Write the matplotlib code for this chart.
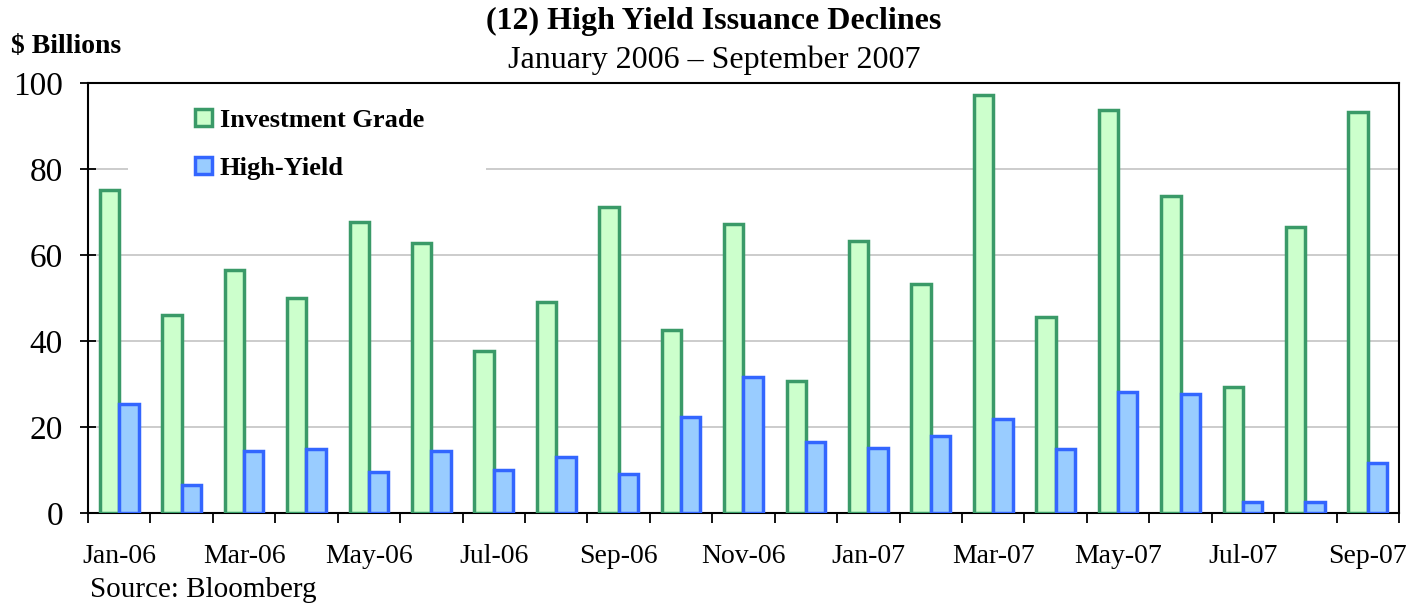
import matplotlib.pyplot as plt
from matplotlib.patches import Rectangle
import numpy as np

plt.rcParams['font.family'] = ['Liberation Serif', 'DejaVu Serif']

months = ['Jan-06', 'Feb-06', 'Mar-06', 'Apr-06', 'May-06', 'Jun-06', 'Jul-06',
          'Aug-06', 'Sep-06', 'Oct-06', 'Nov-06', 'Dec-06', 'Jan-07', 'Feb-07',
          'Mar-07', 'Apr-07', 'May-07', 'Jun-07', 'Jul-07', 'Aug-07', 'Sep-07']
investment_grade = [75.1, 46.0, 56.5, 50.0, 67.7, 62.8, 37.7, 49.0, 71.2, 42.6, 67.2,
                    30.7, 63.3, 53.3, 97.2, 45.6, 93.7, 73.7, 29.3, 66.5, 93.3]
high_yield = [25.3, 6.5, 14.4, 14.9, 9.5, 14.4, 10.0, 13.0, 9.0, 22.3, 31.6,
              16.5, 15.1, 17.9, 21.9, 14.9, 28.1, 27.7, 2.6, 2.6, 11.6]

fig = plt.figure(figsize=(14.14, 6.06), dpi=100)
ax = fig.add_axes([0.0622, 0.1535, 0.9272, 0.7095])

x = np.arange(len(months))
w = 0.31
ax.bar(x - w / 2, investment_grade, w, color='#ccffcc', edgecolor='#3a9a68',
       linewidth=2.5, label='Investment Grade', zorder=3)
ax.bar(x + w / 2, high_yield, w, color='#99ccff', edgecolor='#3366ff',
       linewidth=2.5, label='High-Yield', zorder=3)

ax.set_xlim(-0.5, len(months) - 0.5)
ax.set_ylim(0, 100)
ax.set_yticks([0, 20, 40, 60, 80, 100])
ax.set_axisbelow(True)
ax.yaxis.grid(True, color='#c8c8c8', linewidth=1.3)
ax.tick_params(axis='y', labelsize=24, direction='inout', length=12, width=1.3, pad=12)

ax.set_xticks(x[::2])
ax.set_xticklabels(months[::2])
ax.tick_params(axis='x', which='major', length=0, labelsize=20, pad=22)
ax.set_xticks(np.arange(-0.5, len(months), 1), minor=True)
ax.tick_params(axis='x', which='minor', direction='out', length=7, width=1.3)
for s in ax.spines.values():
    s.set_linewidth(1.5)

# white area behind the legend hides the gridline there
ax.add_patch(Rectangle((0.0305, 0.76), 0.273, 0.21, transform=ax.transAxes,
                       facecolor='white', edgecolor='none', zorder=2))

leg = ax.legend(loc='upper left', bbox_to_anchor=(0.082, 0.94), frameon=False,
                prop={'weight': 'bold', 'size': 19}, handlelength=0.62, handleheight=0.62,
                handletextpad=0.3, labelspacing=0.95, borderpad=0, borderaxespad=0)
leg.set_zorder(5)

fig.text(0.505, 0.965, '(12) High Yield Issuance Declines', ha='center', va='center',
         fontsize=23, fontweight='bold')
fig.text(0.505, 0.901, 'January 2006 \u2013 September 2007', ha='center', va='center',
         fontsize=23)
fig.text(0.008, 0.924, '$ Billions', ha='left', va='center', fontsize=20, fontweight='bold')
fig.text(0.064, 0.026, 'Source: Bloomberg', ha='left', va='center', fontsize=21)

fig.savefig('out.png', dpi=100)
